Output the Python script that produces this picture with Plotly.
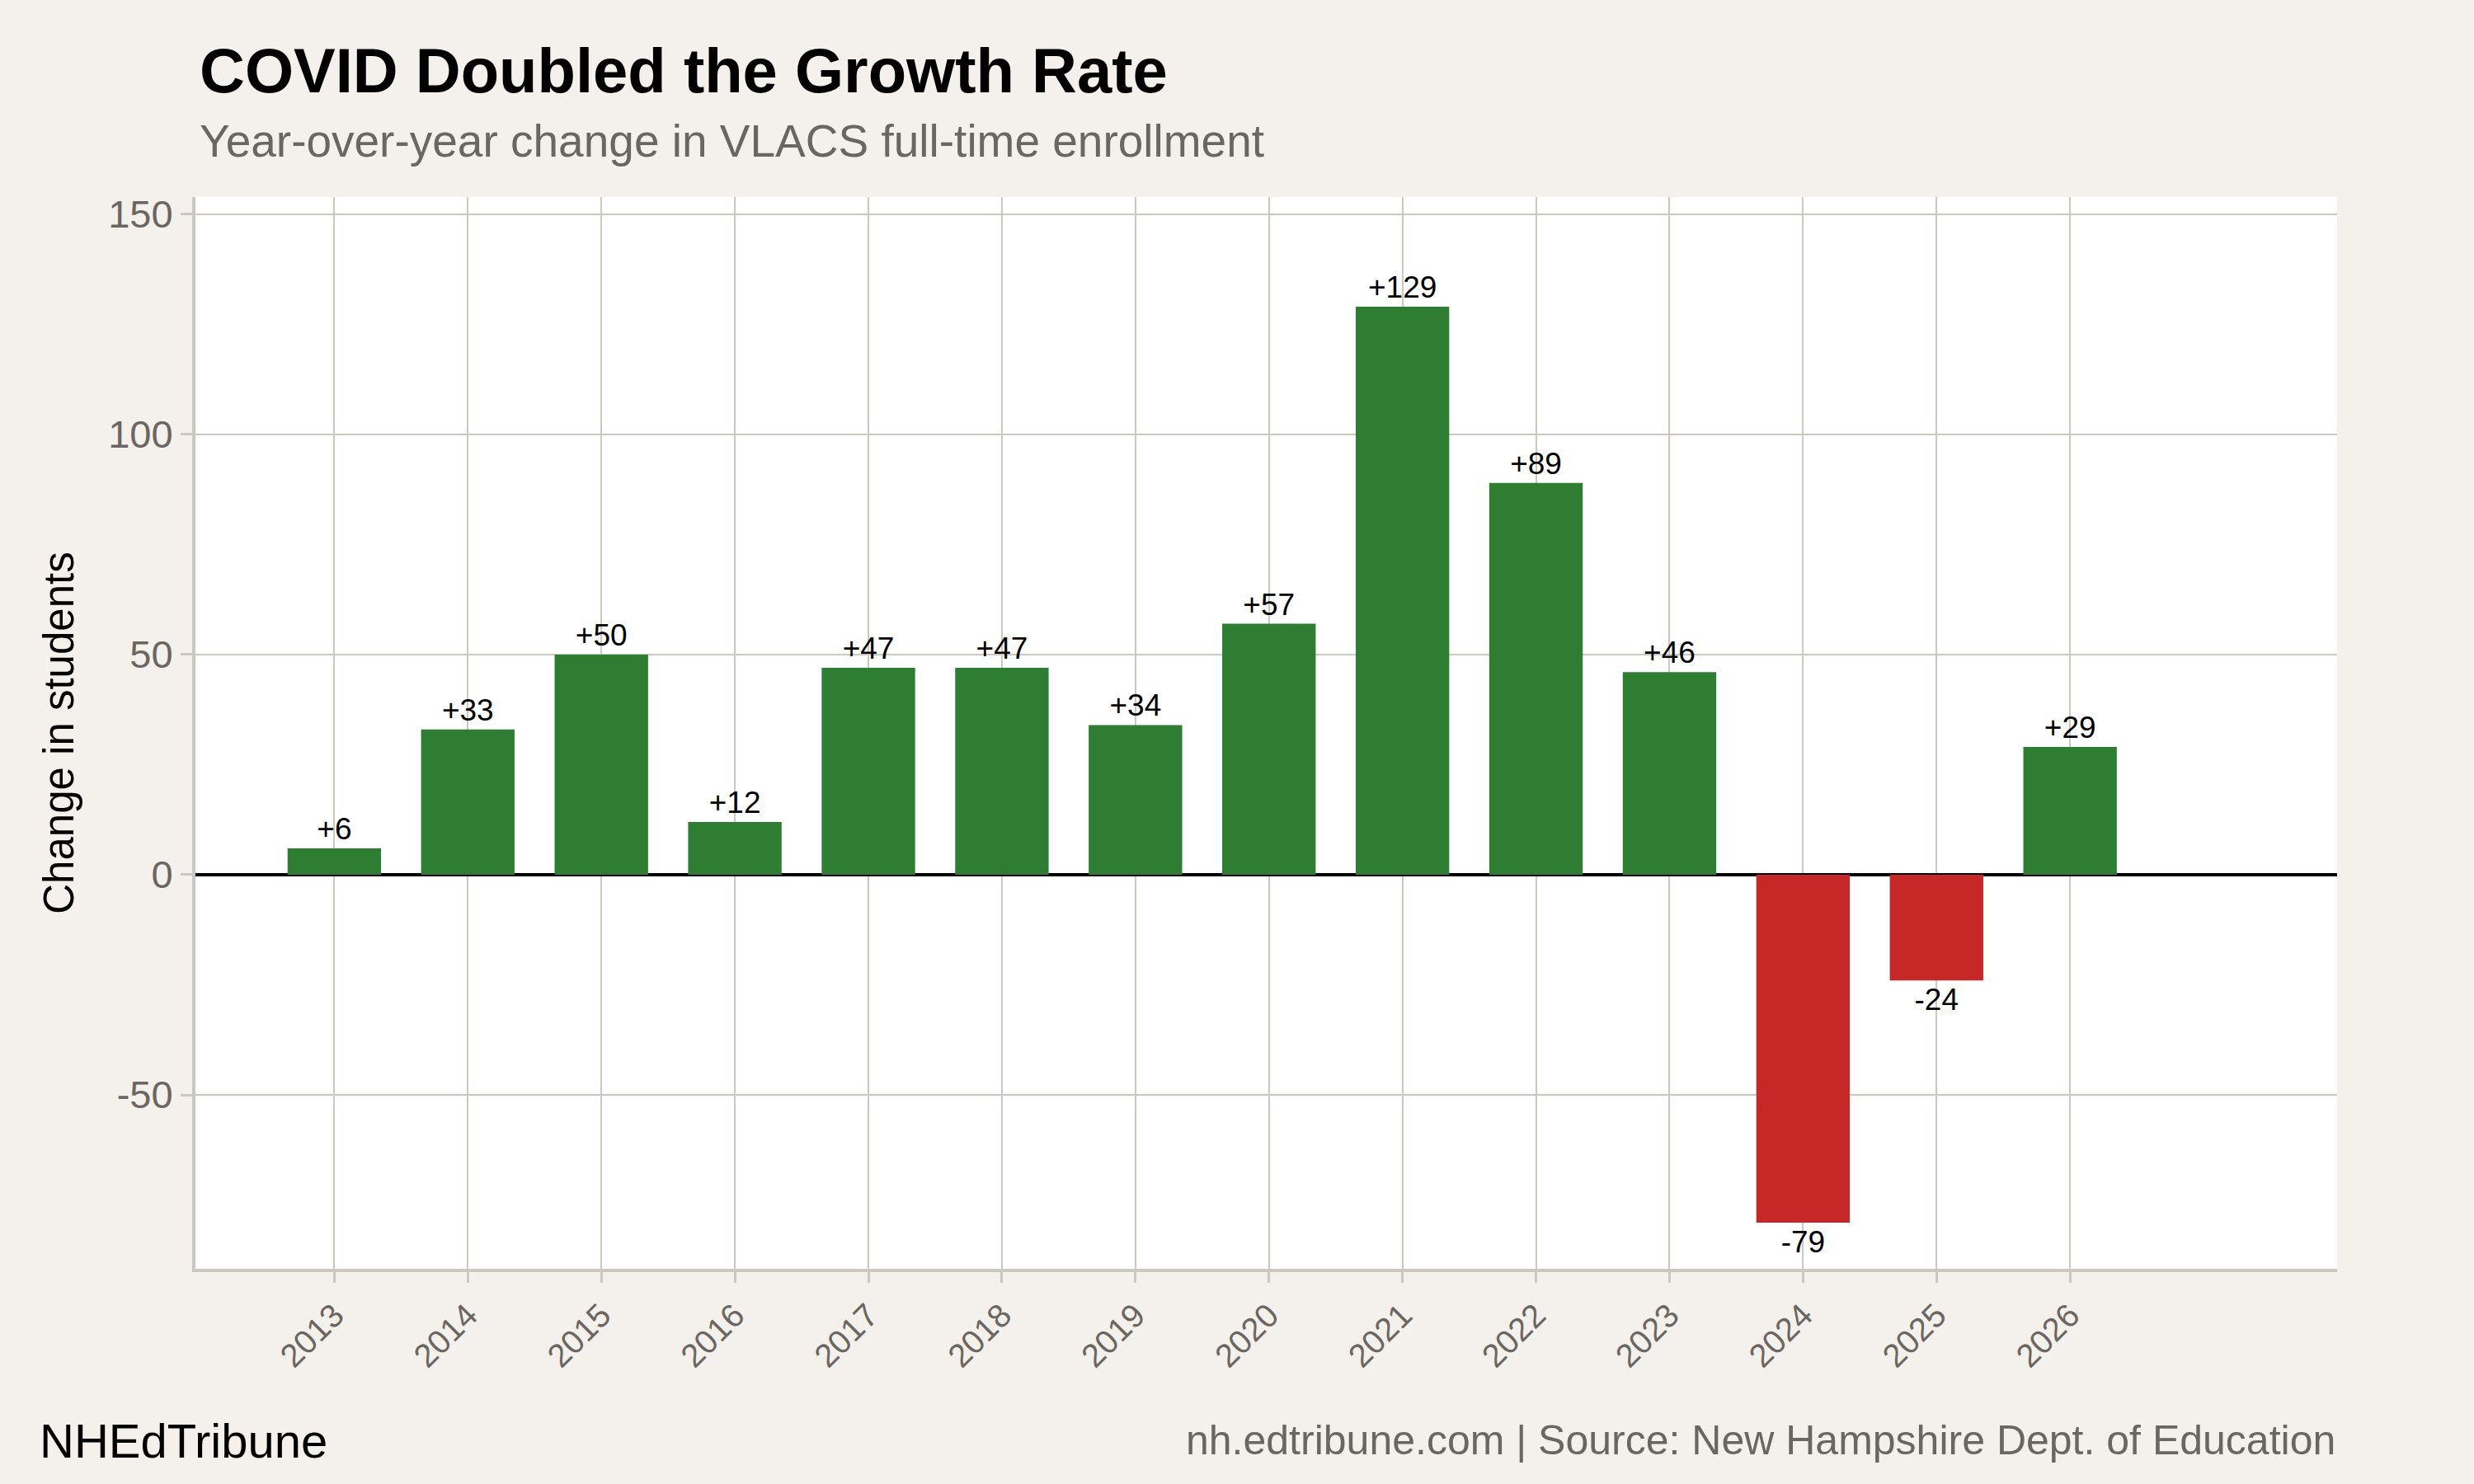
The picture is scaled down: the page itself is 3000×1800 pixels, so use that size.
import plotly.graph_objects as go

years = [2013, 2014, 2015, 2016, 2017, 2018, 2019, 2020, 2021, 2022, 2023, 2024, 2025, 2026]
changes = [6, 33, 50, 12, 47, 47, 34, 57, 129, 89, 46, -79, -24, 29]
y_ticks = [-50, 0, 50, 100, 150]

GREEN = "#2e7d32"
RED = "#c62828"
PAPER = "#f4f1ec"
GRID = "#cdc8bf"
GREY_TEXT = "#6b6661"
FONT = "Liberation Sans, Arial, Helvetica, sans-serif"

bar_colors = [GREEN if v >= 0 else RED for v in changes]
bar_text = [("+%d" % v) if v > 0 else str(v) for v in changes]

fig = go.Figure()
fig.add_trace(go.Bar(
    x=years,
    y=changes,
    width=0.7,
    marker=dict(color=bar_colors, line=dict(width=0)),
    text=bar_text,
    textposition="outside",
    textfont=dict(family=FONT, size=37, color="black"),
    constraintext="none",
    cliponaxis=False,
    hoverinfo="x+y",
))

fig.update_layout(
    width=3000,
    height=1800,
    paper_bgcolor=PAPER,
    plot_bgcolor="white",
    margin=dict(l=237, r=166, t=239, b=261),
    showlegend=False,
    font=dict(family=FONT, color=GREY_TEXT),
    bargap=0.3,
)

fig.update_xaxes(
    range=[2011.96, 2028.0],
    tickvals=years,
    ticktext=[str(y) for y in years],
    tickangle=-45,
    tickfont=dict(size=40, color=GREY_TEXT),
    showgrid=True,
    gridcolor=GRID,
    gridwidth=2,
    showline=True,
    linecolor=GRID,
    linewidth=4,
    ticks="outside",
    ticklen=13,
    tickwidth=2.5,
    tickcolor=GRID,
    zeroline=False,
)

fig.update_yaxes(
    range=[-89.5, 153.9],
    tickvals=y_ticks,
    ticktext=[str(v) for v in y_ticks],
    tickfont=dict(size=47, color=GREY_TEXT),
    showgrid=True,
    gridcolor=GRID,
    gridwidth=2,
    showline=True,
    linecolor=GRID,
    linewidth=4,
    ticks="outside",
    ticklen=14,
    tickwidth=2.5,
    tickcolor=GRID,
    zeroline=True,
    zerolinecolor="black",
    zerolinewidth=4,
    title=dict(text="Change in students", font=dict(size=51, color="black"), standoff=26),
)

fig.add_annotation(
    text="<b>COVID Doubled the Growth Rate</b>",
    xref="paper", yref="paper", x=0.001, y=1.118,
    xanchor="left", yanchor="middle", showarrow=False,
    font=dict(size=76, color="black", family=FONT),
)
fig.add_annotation(
    text="Year-over-year change in VLACS full-time enrollment",
    xref="paper", yref="paper", x=0.001, y=1.052,
    xanchor="left", yanchor="middle", showarrow=False,
    font=dict(size=55, color=GREY_TEXT, family=FONT),
)
fig.add_annotation(
    text="NHEdTribune",
    xref="paper", yref="paper", x=-0.0735, y=-0.160,
    xanchor="left", yanchor="middle", showarrow=False,
    font=dict(size=58, color="black", family=FONT),
)
fig.add_annotation(
    text="nh.edtribune.com | Source: New Hampshire Dept. of Education",
    xref="paper", yref="paper", x=1.0, y=-0.160,
    xanchor="right", yanchor="middle", showarrow=False,
    font=dict(size=50, color=GREY_TEXT, family=FONT),
)

# drop the default page margin so the figure fills the window
page_fix = "document.body.style.margin='0';document.body.style.background='%s';" % PAPER
fig.write_html("out.html", post_script=page_fix, config={"displayModeBar": False})
